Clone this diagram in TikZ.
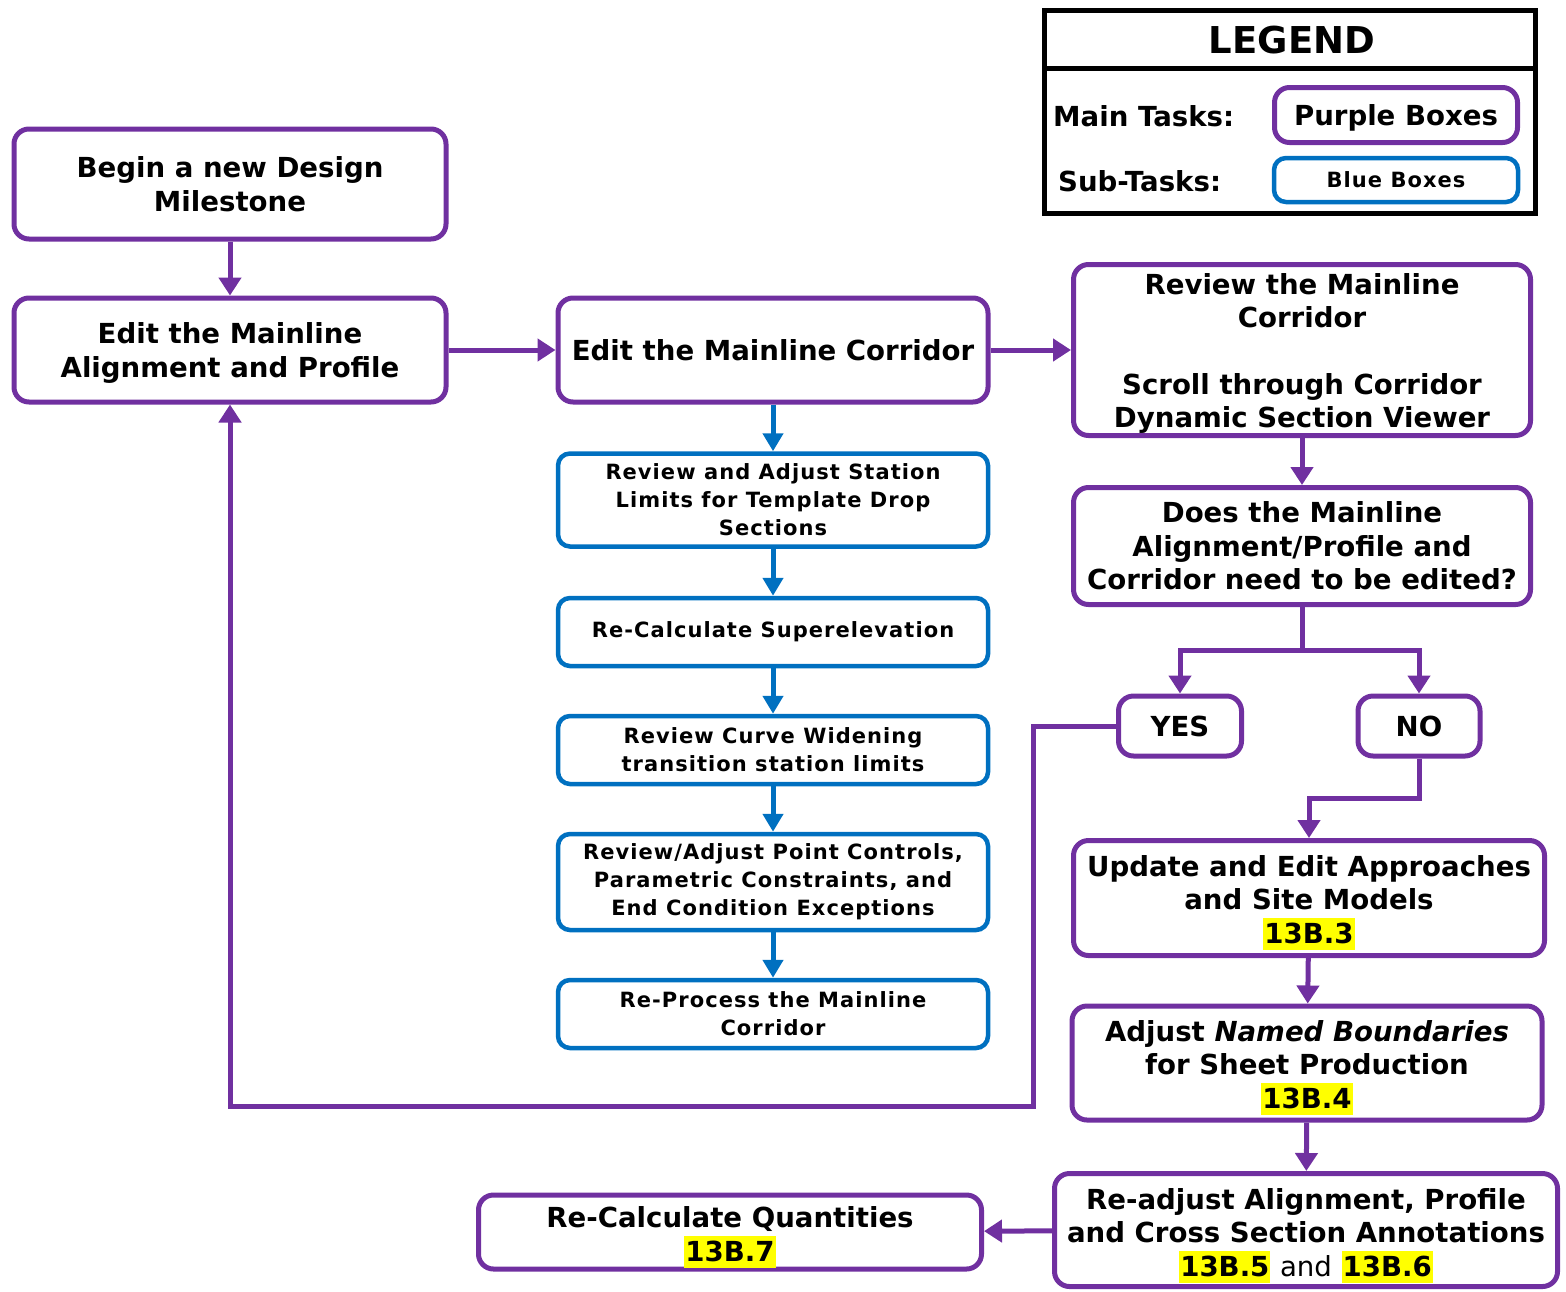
\documentclass[tikz,border=0pt]{standalone}
\usepackage{fontspec}
\setmainfont{DejaVu Sans}
\newfontfamily\subfont{DejaVu Sans}[LetterSpace=5]
\usetikzlibrary{arrows.meta}
\definecolor{mainpurple}{HTML}{7030A0}
\definecolor{subblue}{HTML}{0070C0}
\definecolor{hl}{HTML}{FFFF00}
% yellow highlighted section number
\newcommand{\secref}[1]{{\setlength{\fboxsep}{1pt}\colorbox{hl}{\rule[-6pt]{0pt}{30pt}#1}}}
% taller first line, which lowers a block of text inside its box
\newcommand{\drop}[1]{\rule{0pt}{#1}}
\tikzset{
  mainbox/.style={draw=mainpurple, line width=5pt, rounded corners=15pt, align=center,
    inner sep=0pt, font=\bfseries\fontsize{27.6}{33.5}\selectfont},
  subbox/.style={draw=subblue, line width=4.5pt, rounded corners=12pt, align=center,
    inner sep=0pt, font=\subfont\bfseries\fontsize{21}{28}\selectfont},
  parrow/.style={draw=mainpurple, line width=5pt, -{Triangle[length=18pt,width=22pt]}},
  barrow/.style={draw=subblue, line width=5pt, -{Triangle[length=18pt,width=20pt]}},
  plainlabel/.style={inner sep=0pt, font=\bfseries\fontsize{27.6}{33.5}\selectfont}
}
\begin{document}
\begin{tikzpicture}[x=1pt,y=-1pt]
\useasboundingbox (0,0) rectangle (1566,1291);

% legend
\draw[line width=5pt] (1044,10) rectangle (1535,213);
\draw[line width=5pt] (1044,68) -- (1535,68);
\node[plainlabel, font=\bfseries\fontsize{37}{40}\selectfont] (legtitle) at (1292,40) {LEGEND};
\node[plainlabel, anchor=west] (legmain) at (1053,116) {Main Tasks:};
\node[plainlabel, anchor=west] (legsub) at (1058,181) {Sub-Tasks:};
\node[mainbox, minimum width=243pt, minimum height=55pt] (legpurple) at (1396,115) {\drop{27pt}Purple Boxes};
\node[subbox, minimum width=244pt, minimum height=44pt] (legblue) at (1396,180) {Blue Boxes};

% main tasks
\node[mainbox, minimum width=432pt, minimum height=110pt] (begin) at (230,184)
  {Begin a new Design\\Milestone};
\node[mainbox, minimum width=432pt, minimum height=104pt] (edalign) at (230,350)
  {\drop{27pt}Edit the Mainline\\Alignment and Profile};
\node[mainbox, minimum width=430pt, minimum height=104pt] (edcorr) at (773,350)
  {Edit the Mainline Corridor};
\node[mainbox, minimum width=457pt, minimum height=171pt] (review) at (1302,350)
  {\drop{28pt}Review the Mainline\\Corridor\\[33pt]Scroll through Corridor\\Dynamic Section Viewer};
\node[mainbox, minimum width=457pt, minimum height=117pt] (does) at (1302,546)
  {Does the Mainline\\Alignment/Profile and\\Corridor need to be edited?};
\node[mainbox, minimum width=123pt, minimum height=60pt] (yes) at (1180,726) {YES};
\node[mainbox, minimum width=122pt, minimum height=60pt] (no) at (1419,726) {NO};
\node[mainbox, minimum width=471pt, minimum height=115pt] (update) at (1309,898)
  {\drop{30pt}Update and Edit Approaches\\and Site Models\\\secref{13B.3}};
\node[mainbox, minimum width=470pt, minimum height=114pt] (named) at (1307,1063)
  {\drop{30pt}Adjust \textit{Named Boundaries}\\for Sheet Production\\\secref{13B.4}};
\node[mainbox, minimum width=503pt, minimum height=113pt] (readj) at (1306,1230)
  {\drop{32pt}Re-adjust Alignment, Profile\\and Cross Section Annotations\\\secref{13B.5} {\mdseries and} \secref{13B.6}};
\node[mainbox, minimum width=503pt, minimum height=74pt] (quant) at (730,1232)
  {\drop{32pt}Re-Calculate Quantities\\\secref{13B.7}};

% sub-tasks
\node[subbox, minimum width=430pt, minimum height=93pt] (stations) at (773,500)
  {Review and Adjust Station\\Limits for Template Drop\\Sections};
\node[subbox, minimum width=430pt, minimum height=68pt] (superel) at (773,632)
  {Re-Calculate Superelevation};
\node[subbox, minimum width=430pt, minimum height=68pt] (widening) at (773,750)
  {Review Curve Widening\\transition station limits};
\node[subbox, minimum width=430pt, minimum height=96pt] (points) at (773,882)
  {Review/Adjust Point Controls,\\Parametric Constraints, and\\End Condition Exceptions};
\node[subbox, minimum width=430pt, minimum height=68pt] (reproc) at (773,1014)
  {Re-Process the Mainline\\Corridor};

% connectors
\coordinate (split) at (1302,650);
\coordinate (noturn) at (1419,798);
\coordinate (loopcorner) at (1033,1106);

\draw[parrow] (begin) -- (edalign);
\draw[parrow] (edalign) -- (edcorr);
\draw[parrow] (edcorr) -- (review);
\draw[parrow] (review) -- (does);
\draw[parrow] (does.south) -- (split) -| (yes.north);
\draw[parrow] (split) -| (no.north);
\draw[parrow] (no.south) -- (noturn) -| (update.north);
\draw[parrow] (update) -- (named);
\draw[parrow] (named) -- (readj);
\draw[parrow] (readj) -- (quant);
\draw[parrow] (yes.west) -- (yes.west -| loopcorner) -- (loopcorner) -- (loopcorner -| edalign) -- (edalign.south);

\draw[barrow] (edcorr) -- (stations);
\draw[barrow] (stations) -- (superel);
\draw[barrow] (superel) -- (widening);
\draw[barrow] (widening) -- (points);
\draw[barrow] (points) -- (reproc);
\end{tikzpicture}
\end{document}
